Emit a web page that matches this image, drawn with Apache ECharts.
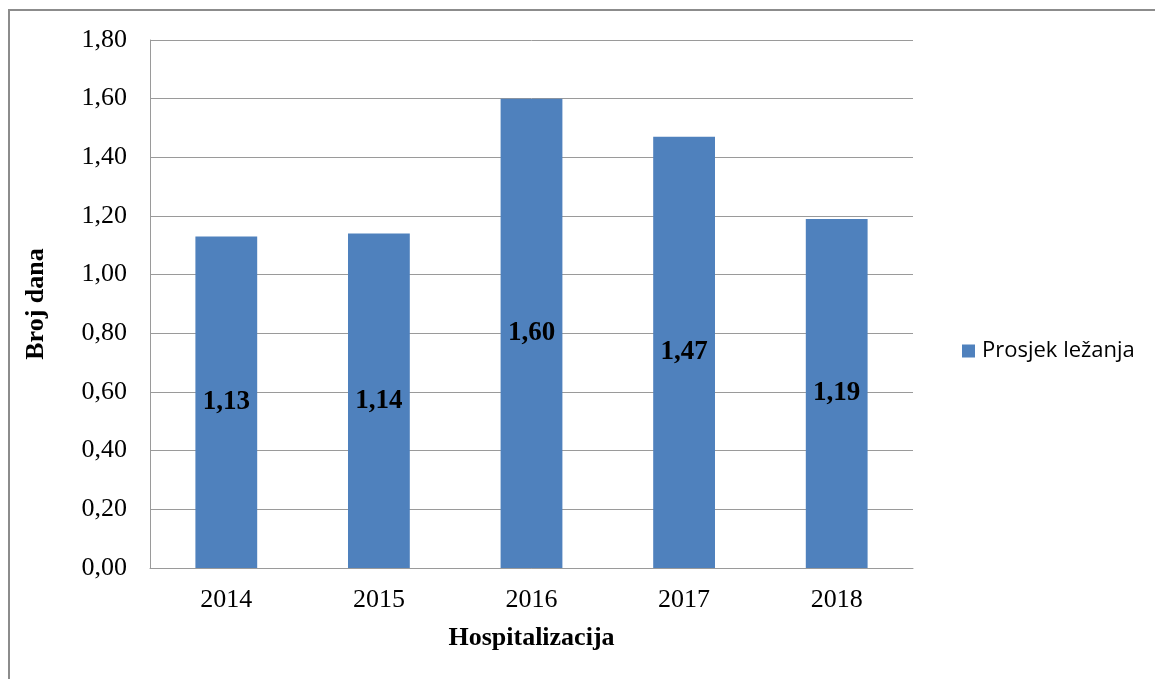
<!DOCTYPE html>
<html lang="hr">
<head>
    <meta charset="UTF-8">
    <title>Prosjek ležanja</title>
    <script type="text/javascript" src="https://cdn.jsdelivr.net/npm/echarts@6/dist/echarts.min.js"></script>
    <style>
        html, body { margin: 0; padding: 0; background: #fff; }
        #main { width: 1155px; height: 679px; }
    </style>
</head>
<body>
<div id="main"></div>
<script type="text/javascript">
    // podaci
    var years = ['2014', '2015', '2016', '2017', '2018'];
    var prosjek = [1.13, 1.14, 1.60, 1.47, 1.19];
    var seriesName = 'Prosjek ležanja';

    function zarez(v, d) {
        return v.toFixed(d).replace('.', ',');
    }

    var myChart = echarts.init(document.getElementById('main'));
    myChart.setOption({
        animation: false,
        graphic: [{
            // okvir grafikona (lijevo i gore)
            type: 'polyline',
            shape: { points: [[9, 679], [9, 10], [1155, 10]] },
            style: { stroke: '#8c8c8c', lineWidth: 2, fill: null }
        }],
        grid: { left: 150, right: 242, top: 40, bottom: 111 },
        legend: {
            data: [seriesName],
            orient: 'vertical',
            left: 957,
            top: 335,
            itemWidth: 13,
            itemHeight: 13,
            icon: 'rect',
            textStyle: { fontFamily: 'Open Sans', fontSize: 22, color: '#000', padding: [0, 0, 0, 2] }
        },
        xAxis: {
            type: 'category',
            data: years,
            name: 'Hospitalizacija',
            nameLocation: 'middle',
            nameGap: 57,
            nameTextStyle: { fontFamily: 'Liberation Serif', fontWeight: 'bold', fontSize: 26, color: '#000' },
            axisLine: { lineStyle: { color: '#9a9a9a', width: 1 } },
            axisTick: { show: false },
            axisLabel: { margin: 19, fontFamily: 'Liberation Serif', fontSize: 26, color: '#000' }
        },
        yAxis: {
            type: 'value',
            min: 0,
            max: 1.8,
            interval: 0.2,
            name: 'Broj dana',
            nameLocation: 'middle',
            nameGap: 101,
            nameTextStyle: { fontFamily: 'Liberation Serif', fontWeight: 'bold', fontSize: 26, color: '#000' },
            axisLine: { show: true, lineStyle: { color: '#9a9a9a', width: 1 } },
            axisTick: { show: false },
            splitLine: { lineStyle: { color: '#9a9a9a', width: 1 } },
            axisLabel: {
                margin: 23,
                fontFamily: 'Liberation Serif',
                fontSize: 26,
                color: '#000',
                formatter: function (v) { return zarez(v, 2); }
            }
        },
        series: [{
            name: seriesName,
            type: 'bar',
            data: prosjek,
            barWidth: '40.5%',
            itemStyle: { color: '#4f81bd' },
            label: {
                show: true,
                position: 'inside',
                fontFamily: 'Liberation Serif',
                fontWeight: 'bold',
                fontSize: 27,
                color: '#000',
                formatter: function (p) { return zarez(p.value, 2); }
            }
        }]
    });
</script>
</body>
</html>
